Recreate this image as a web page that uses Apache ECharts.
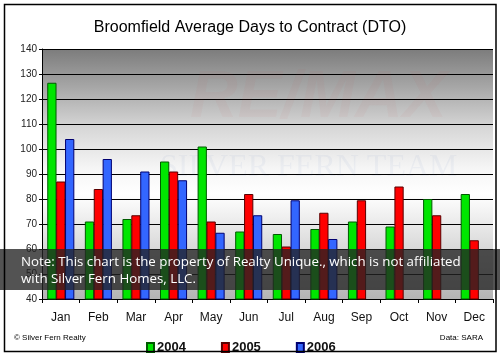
<!DOCTYPE html>
<html>
<head>
<meta charset="utf-8">
<script src="https://cdn.jsdelivr.net/npm/echarts@6/dist/echarts.min.js"></script>
<style>html,body{margin:0;padding:0;background:#fff}#c{width:500px;height:357px}</style>
</head>
<body>
<div id="c"></div>
<script>
const months = ['Jan','Feb','Mar','Apr','May','Jun','Jul','Aug','Sep','Oct','Nov','Dec'];
const seriesNames = ['2004','2005','2006'];
const v2004 = [126.5, 71, 72, 95, 101, 67, 66, 68, 71, 69, 80, 82];
const v2005 = [87, 84, 73.5, 91, 71, 82, 61, 74.5, 79.5, 85, 73.5, 63.5];
const v2006 = [104, 96, 91, 87.5, 66.5, 73.5, 79.5, 64, null, null, null, null];
const yTicks = {min: 40, max: 140, interval: 10};

const chart = echarts.init(document.getElementById('c'), null, {renderer: 'canvas'});
const fills = ['#00e600', '#ff0000', '#3366ff'];
const borders = ['#005a00', '#5a0000', '#000070'];
const data = [v2004, v2005, v2006];

chart.setOption({
  animation: false,
  backgroundColor: '#ffffff',
  title: {
    text: 'Broomfield Average Days to Contract (DTO)',
    left: 'center', top: 15,
    textStyle: {fontFamily: 'Liberation Sans, Arial', fontSize: 16, fontWeight: 'normal', color: '#000'}
  },
  grid: {
    left: 42, right: 7, top: 49, bottom: 58, show: true, borderWidth: 0,
    backgroundColor: {
      type: 'linear', x: 0, y: 0, x2: 0, y2: 1,
      colorStops: [
        {offset: 0, color: '#7c7c7c'},
        {offset: 0.15, color: '#a6a6a6'},
        {offset: 0.32, color: '#d8d8d8'},
        {offset: 0.48, color: '#f6f6f6'},
        {offset: 0.58, color: '#ffffff'},
        {offset: 0.78, color: '#dcdcdc'},
        {offset: 1, color: '#b4b4b4'}
      ]
    }
  },
  legend: {
    left: 141, top: 336,
    itemWidth: 7, itemHeight: 9, itemGap: 35,
    icon: 'rect',
    textStyle: {fontFamily: 'Liberation Sans, Arial', fontSize: 13, fontWeight: 'bold', color: '#111', padding: [2,0,0,-2]},
    data: seriesNames
  },
  xAxis: {
    type: 'category', data: months,
    axisLine: {show: true, lineStyle: {color: '#000', width: 1}},
    axisTick: {show: true, length: 4, inside: false, lineStyle: {color: '#000'}},
    axisLabel: {fontFamily: 'Liberation Sans, Arial', fontSize: 12, color: '#111', margin: 13}
  },
  yAxis: {
    type: 'value', min: yTicks.min, max: yTicks.max, interval: yTicks.interval,
    axisLine: {show: true, lineStyle: {color: '#000', width: 1}},
    axisTick: {show: true, length: 3, lineStyle: {color: '#000'}},
    axisLabel: {fontFamily: 'Liberation Sans, Arial', fontSize: 10, color: '#222', margin: 5},
    splitLine: {show: true, lineStyle: {color: '#000', width: 1}}
  },
  series: seriesNames.map((n, i) => ({
    name: n, type: 'bar', data: data[i],
    barCategoryGap: '28%', barGap: '-4%',
    itemStyle: {color: fills[i], borderColor: borders[i], borderWidth: 1}
  })),
  graphic: [
    {type: 'text', z: 1, left: 190, top: 66, silent: true,
     style: {text: 'RE/MAX', font: 'italic bold 66px Liberation Sans, Arial', fill: 'rgba(210,70,70,0.045)'}},
    {type: 'text', z: 1, left: 160, top: 152, silent: true,
     style: {text: 'SILVER FERN TEAM', font: '32px Liberation Serif, serif', fill: 'rgba(60,100,180,0.05)'}},
    {type: 'rect', z: 100, shape: {x: 0, y: 249, width: 500, height: 41},
     style: {fill: 'rgba(35,35,35,0.78)'}},
    {type: 'text', z: 101, left: 21, top: 253,
     style: {text: 'Note: This chart is the property of Realty Unique., which is not affiliated\nwith Silver Fern Homes, LLC.',
             font: '13.3px Open Sans, Noto Sans, sans-serif', fill: '#ffffff', lineHeight: 17.5}},
    {type: 'text', z: 101, left: 14, top: 334,
     style: {text: '\u00a9 Silver Fern Realty', font: '8px Liberation Sans, Arial', fill: '#000'}},
    {type: 'text', z: 101, right: 17, top: 334,
     style: {text: 'Data: SARA', font: '8px Liberation Sans, Arial', fill: '#000'}},
    {type: 'rect', z: 102, shape: {x: 4.5, y: 4.5, width: 491.5, height: 347},
     style: {fill: 'none', stroke: '#000', lineWidth: 1.5}}
  ]
});
</script>
</body>
</html>
